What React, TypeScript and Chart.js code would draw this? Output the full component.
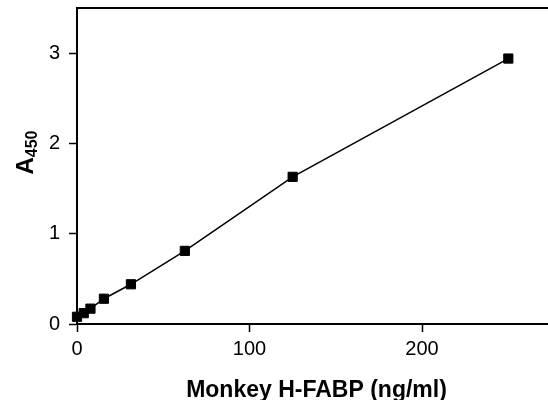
import React, { useEffect, useRef } from "react";
import { Chart, registerables } from "chart.js";

Chart.register(...registerables);

const concentrations = [0, 3.9, 7.8, 15.6, 31.25, 62.5, 125, 250];
const absorbance = [0.08, 0.12, 0.17, 0.28, 0.44, 0.81, 1.63, 2.94];
const xTicks = [0, 100, 200];
const yTicks = [0, 1, 2, 3];
const xTitle = "Monkey H-FABP (ng/ml)";
const yTitleMain = "A";
const yTitleSub = "450";

const FONT = "'Liberation Sans', Arial, sans-serif";

const framePlugin = {
  id: "frame",
  afterDraw(chart: any) {
    const { ctx, chartArea } = chart;
    ctx.save();
    ctx.strokeStyle = "#000";
    ctx.lineWidth = 2;
    ctx.beginPath();
    ctx.moveTo(chartArea.left, chartArea.top);
    ctx.lineTo(chart.width, chartArea.top);
    ctx.stroke();

    ctx.fillStyle = "#000";
    ctx.font = `bold 23px ${FONT}`;
    ctx.textAlign = "center";
    ctx.textBaseline = "alphabetic";
    ctx.fillText(xTitle, 316.5, 397);

    ctx.translate(33, 152.5);
    ctx.rotate(-Math.PI / 2);
    ctx.textAlign = "left";
    ctx.font = `bold 24px ${FONT}`;
    const wA = ctx.measureText(yTitleMain).width;
    ctx.font = `bold 16px ${FONT}`;
    const wS = ctx.measureText(yTitleSub).width;
    const start = -(wA + wS) / 2;
    ctx.font = `bold 24px ${FONT}`;
    ctx.fillText(yTitleMain, start, 0);
    ctx.font = `bold 16px ${FONT}`;
    ctx.fillText(yTitleSub, start + wA, 4);
    ctx.restore();
  },
};

export default function App() {
  const ref = useRef<HTMLCanvasElement>(null);
  useEffect(() => {
    if (!ref.current) return;
    const chart = new Chart(ref.current, {
      type: "scatter",
      data: {
        datasets: [
          {
            data: concentrations.map((x, i) => ({ x, y: absorbance[i] })),
            showLine: true,
            borderColor: "#000",
            borderWidth: 1.5,
            backgroundColor: "#000",
            pointStyle: "rect",
            pointRadius: 6.5,
            pointBorderWidth: 1,
            pointBorderColor: "#000",
            tension: 0,
            clip: false as any,
          } as any,
        ],
      },
      options: {
        animation: false,
        responsive: true,
        maintainAspectRatio: false,
        layout: { autoPadding: false, padding: { left: 0, top: 8, right: 0, bottom: 0 } } as any,
        plugins: { legend: { display: false }, tooltip: { enabled: false } },
        scales: {
          x: {
            type: "linear",
            min: 0,
            max: 273,
            afterBuildTicks: (s: any) => {
              s.ticks = xTicks.map((v) => ({ value: v }));
            },
            afterFit: (s: any) => {
              s.height = 76;
              s.paddingLeft = 0;
              s.paddingRight = 0;
            },
            ticks: {
              color: "#000",
              font: { family: FONT, size: 20 },
              padding: 5,
              maxRotation: 0,
              callback: (v: any) => String(v),
            },
            grid: {
              drawOnChartArea: false,
              drawTicks: true,
              tickLength: 8,
              tickWidth: 1.5,
              tickColor: "#000",
            },
            border: { display: true, color: "#000", width: 2 },
          },
          y: {
            type: "linear",
            min: 0,
            max: 3.5,
            afterBuildTicks: (s: any) => {
              s.ticks = yTicks.map((v) => ({ value: v }));
            },
            afterFit: (s: any) => {
              s.width = 77;
              s.paddingTop = 0;
              s.paddingBottom = 0;
            },
            ticks: {
              color: "#000",
              font: { family: FONT, size: 20 },
              padding: 9,
              callback: (v: any) => String(v),
            },
            grid: {
              drawOnChartArea: false,
              drawTicks: true,
              tickLength: 8,
              tickWidth: 1.5,
              tickColor: "#000",
            },
            border: { display: true, color: "#000", width: 2 },
          },
        },
      },
      plugins: [framePlugin],
    });
    return () => chart.destroy();
  }, []);
  return (
    <div style={{ position: "absolute", left: 0, top: 0, width: 548, height: 400, background: "#fff" }}>
      <canvas ref={ref} />
    </div>
  );
}
